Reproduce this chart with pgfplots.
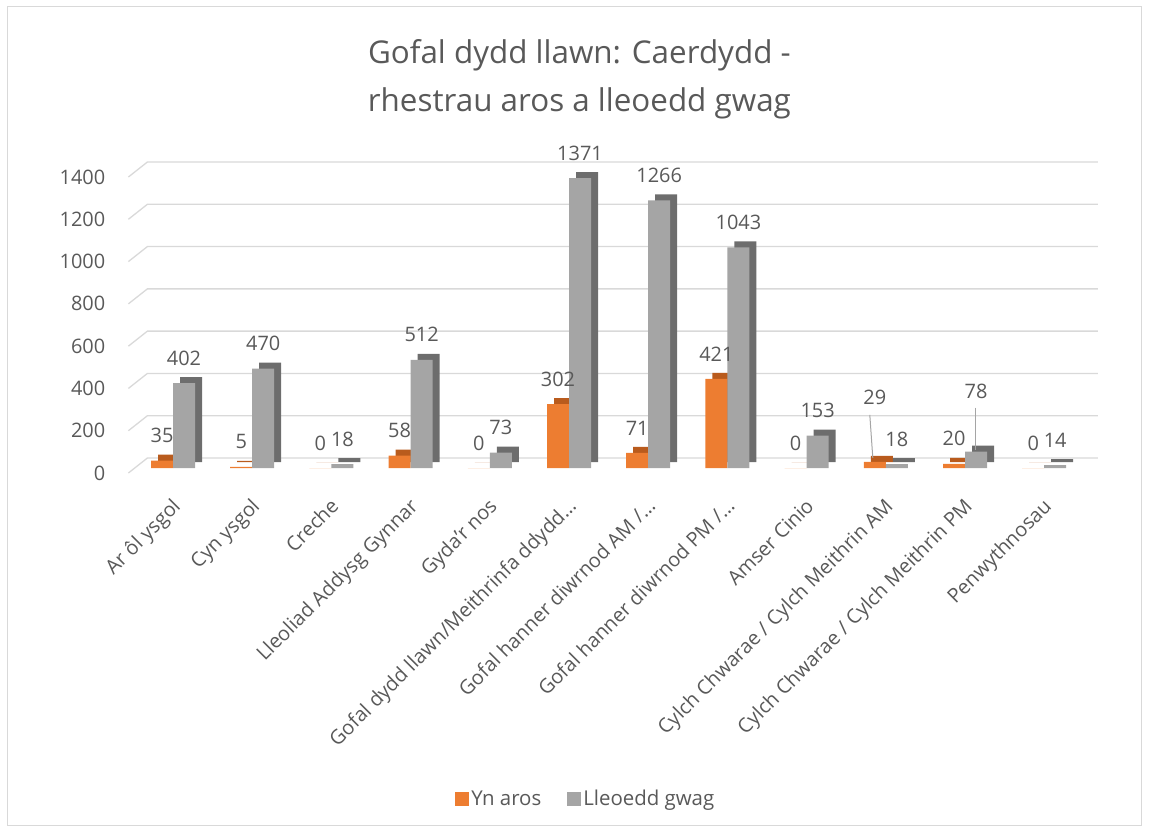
\documentclass[border=0pt]{standalone}
\usepackage{pgfplots}
\usepackage{pgfplotstable}
\pgfplotsset{compat=1.18}
\usepackage{fontspec}
\setmainfont{Open Sans}

\definecolor{orangeF}{HTML}{ED7D31}
\definecolor{orangeD}{HTML}{B95B1D}
\definecolor{greyF}{HTML}{A5A5A5}
\definecolor{greyD}{HTML}{6D6D6D}
\definecolor{txt}{HTML}{595959}
\definecolor{gridc}{HTML}{D9D9D9}

% x, Yn aros, Lleoedd gwag, label lift (bp) for each series
\pgfplotstableread{
x aros gwag la lg
0 35 402 25 25
1 5 470 25 25
2 0 18 25 25
3 58 512 25 25
4 0 73 25 25
5 302 1371 25 25
6 71 1266 25 25
7 421 1043 25 25
8 0 153 25 25
9 29 18 64 25
10 20 78 25 60
11 0 14 25 25
}\data

\begin{document}
\begin{tikzpicture}[every node/.style={text=txt}]
\useasboundingbox (-133.4bp,-364bp) rectangle (1015.6bp,468bp);
\draw[gridc, line width=1bp] (-126bp,-357bp) rectangle (1008bp,461bp);
\node[anchor=base, font=\fontsize{31.5}{36}\selectfont] at (446bp,404bp) {Gofal dydd llawn: Caerdydd -};
\node[anchor=base, font=\fontsize{31.5}{36}\selectfont] at (446bp,356bp) {rhestrau aros a lleoedd gwag};
\begin{axis}[
  scale only axis, width=950.4bp, height=296bp,
  xmin=-0.5, xmax=11.5, ymin=0, ymax=1400,
  clip=false,
  axis line style={draw=none},
  tick style={draw=none},
  ytick={0,200,400,600,800,1000,1200,1400},
  xtick={0,...,11},
  xticklabels={Ar ôl ysgol, Cyn ysgol, Creche, Lleoliad Addysg Gynnar, Gyda’r nos, Gofal dydd llawn/Meithrinfa ddydd…, Gofal hanner diwrnod AM /…, Gofal hanner diwrnod PM /…, Amser Cinio, Cylch Chwarae / Cylch Meithrin AM, Cylch Chwarae / Cylch Meithrin PM, Penwythnosau},
  ticklabel style={font=\fontsize{20}{24}\selectfont, text=txt},
  /pgf/number format/assume math mode=true,
  /pgf/number format/1000 sep={},
  yticklabel style={anchor=east, inner sep=0pt, xshift=-28bp, yshift=-5bp},
  xticklabel style={xshift=5bp, yshift=-36bp, rotate=45, anchor=east, inner sep=0pt, text height=15bp, text depth=5bp},
  legend columns=2,
  legend style={draw=none, at={(0.476,-1.117)}, anchor=center, font=\fontsize{20.5}{24}\selectfont, text=txt,
    nodes={inner sep=2bp}, /tikz/every even column/.append style={column sep=24bp}},
  point meta=explicit symbolic,
]
% floor and grid lines, drawn in the Excel 3-D look
\pgfplotsinvokeforeach{0,200,400,600,800,1000,1200,1400}{
  \draw[gridc, line width=1.3bp] ([xshift=-5bp,yshift=-5bp]axis cs:-0.5,#1) -- ([xshift=14bp,yshift=10bp]axis cs:-0.5,#1) -- ([xshift=14bp,yshift=10bp]axis cs:11.5,#1);
}
% Yn aros
\addplot[ybar, bar width=22bp, bar shift=-11bp, fill=orangeD, draw=none, xshift=7bp, yshift=6bp, forget plot]
  table[x=x, y=aros] {\data};
\addplot[ybar, bar width=22bp, bar shift=-11bp, fill=orangeF, draw=none,
  legend image code/.code={\fill[orangeF] (0bp,-7bp) rectangle (14bp,7bp);},
  nodes near coords, visualization depends on={\thisrow{la} \as \lift},
  nodes near coords style={anchor=center, xshift=-11bp, yshift=\lift bp, font=\fontsize{20}{24}\selectfont, text=txt}]
  table[x=x, y=aros, meta=aros] {\data};
\addlegendentry{Yn aros}
% Lleoedd gwag
\addplot[ybar, bar width=22bp, bar shift=11bp, fill=greyD, draw=none, xshift=7bp, yshift=6bp, forget plot]
  table[x=x, y=gwag] {\data};
\addplot[ybar, bar width=22bp, bar shift=11bp, fill=greyF, draw=none,
  legend image code/.code={\fill[greyF] (0bp,-7bp) rectangle (14bp,7bp);},
  nodes near coords, visualization depends on={\thisrow{lg} \as \lift},
  nodes near coords style={anchor=center, xshift=11bp, yshift=\lift bp, font=\fontsize{20}{24}\selectfont, text=txt}]
  table[x=x, y=gwag, meta=gwag] {\data};
\addlegendentry{Lleoedd gwag}
% leader lines of the moved labels
\draw[greyF, line width=1bp] ([xshift=-16bp,yshift=47bp]axis cs:9,29) -- ([xshift=-13bp,yshift=4bp]axis cs:9,29);
\draw[greyF, line width=1bp] ([xshift=10bp,yshift=44bp]axis cs:10,78) -- ([xshift=10bp,yshift=2bp]axis cs:10,78);
\end{axis}
\end{tikzpicture}
\end{document}
